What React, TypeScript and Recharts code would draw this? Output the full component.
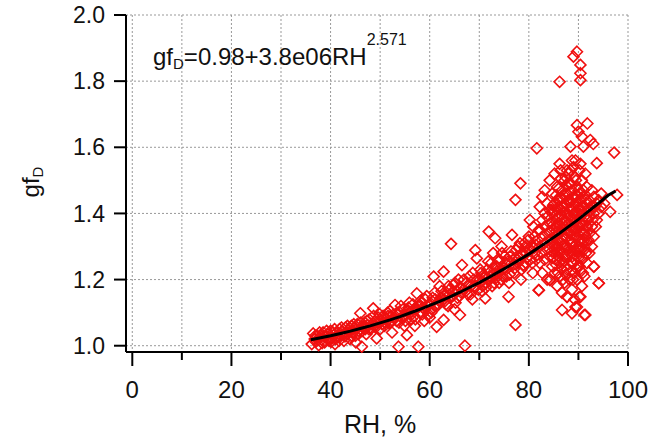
import {
  ComposedChart,
  Scatter,
  XAxis,
  YAxis,
  CartesianGrid,
  Customized,
} from "recharts";

const FONT = "Arial, 'Liberation Sans', sans-serif";
const RED = "#f01010";

// axis ticks
const xTicks = [0, 10, 20, 30, 40, 50, 60, 70, 80, 90, 100];
const yTicks = [1.0, 1.2, 1.4, 1.6, 1.8, 2.0];

// fitted curve
const fitRH = [36, 38, 40, 42, 44, 46, 48, 50, 52, 54, 56, 58, 60, 62, 64, 66, 68, 70, 72, 74, 76, 78, 80, 82, 84, 86, 88, 90, 92, 94, 96, 97.5];
const fitGF = [1.018, 1.024, 1.03, 1.037, 1.044, 1.052, 1.06, 1.069, 1.078, 1.088, 1.099, 1.11, 1.122, 1.134, 1.147, 1.161, 1.176, 1.191, 1.207, 1.224, 1.241, 1.259, 1.277, 1.297, 1.317, 1.338, 1.36, 1.382, 1.406, 1.43, 1.455, 1.468];

// measurements [RH, gfD]
const band36to50: [number, number][] = [
  [36.2, 1.005], [36.5, 1.037], [36.8, 1.02], [37.0, 1.012], [37.3, 1.03], [37.6, 1.002],
  [37.9, 1.025], [38.2, 1.018], [38.5, 1.04], [38.8, 1.01], [39.1, 1.028], [39.4, 1.035],
  [39.7, 1.015], [40.0, 1.045], [40.3, 1.022], [40.6, 1.032], [40.9, 1.005], [41.2, 1.04],
  [41.5, 1.026], [41.8, 1.05], [42.1, 1.03], [42.4, 1.043], [42.7, 1.015], [43.0, 1.055],
  [43.3, 1.035], [43.6, 1.048], [43.9, 1.02], [44.2, 1.06], [44.5, 1.04], [44.8, 1.052],
  [45.1, 1.01], [45.4, 1.065], [45.7, 1.045], [46.0, 1.098], [46.3, 0.997], [46.6, 1.058],
  [46.9, 1.07], [47.2, 1.035], [47.5, 1.062], [47.8, 1.08], [48.1, 1.05], [48.6, 1.113],
  [48.9, 1.072], [49.3, 1.022], [49.6, 1.085], [50.0, 1.05], [38.0, 1.03], [41.0, 1.02],
  [43.0, 1.04], [45.0, 1.03], [47.0, 1.05], [49.0, 1.06],
  [36.9, 1.03], [37.4, 1.018], [37.8, 1.04], [38.3, 1.008], [38.7, 1.028], [39.2, 1.045],
  [39.6, 1.025], [40.1, 1.012], [40.5, 1.04], [40.8, 1.05], [41.3, 1.03], [41.7, 1.015],
  [42.2, 1.055], [42.6, 1.035], [42.9, 1.028], [43.4, 1.06], [43.8, 1.042], [44.3, 1.03],
  [44.7, 1.065], [45.2, 1.05], [45.6, 1.035], [46.1, 1.07], [46.4, 1.045], [46.8, 1.055],
  [47.3, 1.075], [47.7, 1.05], [48.3, 1.065], [48.7, 1.09], [49.1, 1.055], [49.5, 1.07],
  [49.9, 1.095],
];

const band50to70: [number, number][] = [
  [50.3, 1.075], [50.6, 1.09], [50.9, 1.06], [51.2, 1.082], [51.5, 1.1], [51.8, 1.068],
  [52.1, 1.09], [52.4, 1.04], [52.7, 1.095], [53.0, 1.123], [53.3, 1.075], [53.7, 0.997],
  [54.0, 1.1], [54.3, 1.085], [54.6, 1.11], [54.9, 1.06], [55.2, 1.095], [55.4, 1.032],
  [55.7, 1.115], [56.0, 1.1], [56.3, 1.08], [56.6, 1.125], [56.9, 1.09], [57.2, 1.11],
  [57.4, 1.158], [57.7, 0.997], [58.0, 1.1], [58.3, 1.13], [58.6, 1.115], [58.9, 1.075],
  [59.1, 1.14], [59.5, 1.12], [59.8, 1.095], [60.1, 1.13], [60.4, 1.11], [60.8, 1.209],
  [61.1, 1.14], [61.4, 1.057], [61.7, 1.125], [62.0, 1.18], [62.3, 1.145], [62.8, 1.224],
  [62.8, 1.078], [63.1, 1.135], [63.4, 1.16], [63.7, 1.12], [64.0, 1.17], [64.3, 1.308],
  [64.6, 1.15], [64.9, 1.185], [65.2, 1.13], [65.5, 1.165], [65.8, 1.2], [66.1, 1.093],
  [66.5, 1.244], [66.8, 1.17], [67.1, 1.0], [67.4, 1.19], [67.7, 1.155], [68.0, 1.21],
  [68.3, 1.18], [68.6, 1.14], [68.9, 1.2], [69.2, 1.289], [69.5, 1.264], [69.8, 1.17],
  [52.0, 1.07], [55.0, 1.09], [58.0, 1.12], [61.0, 1.12], [63.0, 1.15], [66.0, 1.15], [69.0, 1.18],
  [50.4, 1.065], [50.8, 1.085], [51.1, 1.07], [51.6, 1.09], [52.0, 1.105], [52.5, 1.075],
  [52.9, 1.085], [53.4, 1.1], [53.8, 1.07], [54.2, 1.12], [54.7, 1.09], [55.1, 1.075],
  [55.5, 1.105], [55.9, 1.13], [56.4, 1.095], [56.8, 1.11], [57.1, 1.08], [57.6, 1.12],
  [58.1, 1.135], [58.5, 1.095], [59.0, 1.11], [59.4, 1.15], [59.9, 1.125], [60.3, 1.1],
  [60.6, 1.145], [61.0, 1.16], [61.5, 1.12], [61.9, 1.135], [62.4, 1.165], [62.9, 1.14],
  [63.3, 1.125], [63.8, 1.18], [64.2, 1.145], [64.7, 1.165], [65.1, 1.19], [65.6, 1.145],
  [66.0, 1.175], [66.4, 1.16], [66.9, 1.2], [67.3, 1.165], [67.8, 1.185], [68.2, 1.155],
  [68.7, 1.22], [69.1, 1.175], [69.6, 1.2], [65.0, 1.11], [60.0, 1.085], [57.0, 1.06],
];

const band70to82: [number, number][] = [
  [70.1, 1.2], [70.4, 1.22], [70.7, 1.18], [71.0, 1.205], [71.2, 1.143], [71.6, 1.23],
  [71.9, 1.345], [72.1, 1.2], [72.4, 1.25], [72.7, 1.215], [73.0, 1.19], [73.2, 1.325],
  [73.5, 1.24], [73.8, 1.22], [74.1, 1.26], [74.4, 1.2], [74.6, 1.28], [74.9, 1.235],
  [75.2, 1.25], [75.5, 1.21], [75.9, 1.148], [76.2, 1.27], [76.6, 1.335], [76.9, 1.245],
  [77.3, 1.063], [77.6, 1.26], [77.9, 1.3], [78.5, 1.23], [78.8, 1.275], [79.1, 1.31],
  [79.4, 1.25], [79.7, 1.29], [80.0, 1.33], [80.3, 1.26], [80.6, 1.3], [80.9, 1.36],
  [81.2, 1.28], [81.8, 1.32], [82.0, 1.168], [70.5, 1.195], [72.0, 1.21], [73.6, 1.225],
  [75.0, 1.235], [76.5, 1.25], [78.0, 1.265], [79.5, 1.28], [81.0, 1.295], [71.3, 1.175],
  [74.0, 1.19], [77.0, 1.22], [79.0, 1.24], [81.5, 1.26], [80.2, 1.38],
  [70.2, 1.23], [70.6, 1.165], [70.9, 1.215], [71.4, 1.19], [71.8, 1.255], [72.3, 1.225],
  [72.6, 1.18], [72.9, 1.235], [73.4, 1.205], [73.9, 1.255], [74.3, 1.235], [74.7, 1.21],
  [75.1, 1.27], [75.4, 1.23], [75.8, 1.255], [76.1, 1.215], [76.4, 1.285], [76.8, 1.26],
  [77.2, 1.235], [77.5, 1.29], [77.8, 1.25], [78.2, 1.31], [78.6, 1.28], [78.9, 1.245],
  [79.3, 1.3], [79.6, 1.265], [79.9, 1.32], [80.4, 1.29], [80.7, 1.25], [81.1, 1.33],
  [81.4, 1.305], [81.7, 1.275], [82.0, 1.35], [76.0, 1.19], [78.4, 1.2], [80.8, 1.22],
  [74.5, 1.3], [72.8, 1.28],
];

const core82to94: [number, number][] = [
  [82.2, 1.25], [82.2, 1.3], [82.2, 1.35], [82.2, 1.42],
  [82.7, 1.22], [82.7, 1.28], [82.7, 1.33], [82.7, 1.38], [82.7, 1.45],
  [83.2, 1.26], [83.2, 1.31], [83.2, 1.36], [83.2, 1.4], [83.2, 1.47],
  [83.7, 1.2], [83.7, 1.29], [83.7, 1.34], [83.7, 1.39], [83.7, 1.43],
  [84.2, 1.199], [84.2, 1.27], [84.2, 1.32], [84.2, 1.37], [84.2, 1.41], [84.2, 1.5],
  [84.7, 1.24], [84.7, 1.3], [84.7, 1.35], [84.7, 1.4], [84.7, 1.46],
  [85.2, 1.22], [85.2, 1.28], [85.2, 1.33], [85.2, 1.38], [85.2, 1.43], [85.2, 1.52],
  [85.7, 1.18], [85.7, 1.26], [85.7, 1.31], [85.7, 1.36], [85.7, 1.41], [85.7, 1.48],
  [86.2, 1.21], [86.2, 1.29], [86.2, 1.34], [86.2, 1.39], [86.2, 1.44], [86.2, 1.55],
  [86.7, 1.108], [86.7, 1.16], [86.7, 1.25], [86.7, 1.32], [86.7, 1.37], [86.7, 1.42], [86.7, 1.47],
  [87.2, 1.19], [87.2, 1.27], [87.2, 1.33], [87.2, 1.38], [87.2, 1.43], [87.2, 1.5],
  [87.7, 1.148], [87.7, 1.23], [87.7, 1.3], [87.7, 1.35], [87.7, 1.4], [87.7, 1.46], [87.7, 1.53],
  [88.2, 1.2], [88.2, 1.28], [88.2, 1.34], [88.2, 1.39], [88.2, 1.44], [88.2, 1.49],
  [88.7, 1.098], [88.7, 1.17], [88.7, 1.25], [88.7, 1.31], [88.7, 1.36], [88.7, 1.41], [88.7, 1.47], [88.7, 1.56],
  [89.2, 1.14], [89.2, 1.22], [89.2, 1.29], [89.2, 1.35], [89.2, 1.4], [89.2, 1.45], [89.2, 1.51],
  [89.7, 1.117], [89.7, 1.2], [89.7, 1.27], [89.7, 1.33], [89.7, 1.38], [89.7, 1.43], [89.7, 1.48],
  [90.2, 1.148], [90.2, 1.24], [90.2, 1.3], [90.2, 1.36], [90.2, 1.41], [90.2, 1.46], [90.2, 1.53],
  [90.7, 1.18], [90.7, 1.26], [90.7, 1.32], [90.7, 1.37], [90.7, 1.42], [90.7, 1.5],
  [91.2, 1.093], [91.2, 1.21], [91.2, 1.29], [91.2, 1.34], [91.2, 1.39], [91.2, 1.45],
  [91.7, 1.25], [91.7, 1.31], [91.7, 1.36], [91.7, 1.41], [91.7, 1.48],
  [92.2, 1.28], [92.2, 1.34], [92.2, 1.39], [92.2, 1.44],
  [92.7, 1.3], [92.7, 1.36], [92.7, 1.42], [92.7, 1.47],
  [93.1, 1.239], [93.1, 1.33], [93.1, 1.4], [93.1, 1.45],
  [93.7, 1.38], [93.7, 1.43], [94.1, 1.189], [94.1, 1.4], [94.1, 1.44],
  [94.6, 1.42], [94.6, 1.46], [95.2, 1.43],
];

const coreFill: [number, number][] = [
  [84.9, 1.265], [84.9, 1.315], [84.9, 1.365], [84.9, 1.425],
  [85.5, 1.245], [85.5, 1.295], [85.5, 1.345], [85.5, 1.395], [85.5, 1.455],
  [86.0, 1.27], [86.0, 1.32], [86.0, 1.37], [86.0, 1.42], [86.0, 1.475],
  [86.5, 1.235], [86.5, 1.285], [86.5, 1.345], [86.5, 1.395], [86.5, 1.45], [86.5, 1.505],
  [87.0, 1.255], [87.0, 1.305], [87.0, 1.355], [87.0, 1.405], [87.0, 1.455],
  [87.5, 1.215], [87.5, 1.275], [87.5, 1.325], [87.5, 1.375], [87.5, 1.425], [87.5, 1.485],
  [88.0, 1.245], [88.0, 1.295], [88.0, 1.345], [88.0, 1.395], [88.0, 1.455], [88.0, 1.52],
  [88.5, 1.225], [88.5, 1.285], [88.5, 1.335], [88.5, 1.385], [88.5, 1.435], [88.5, 1.49],
  [89.0, 1.25], [89.0, 1.3], [89.0, 1.35], [89.0, 1.4], [89.0, 1.45], [89.0, 1.54],
  [89.5, 1.235], [89.5, 1.285], [89.5, 1.345], [89.5, 1.395], [89.5, 1.455], [89.5, 1.5],
  [90.0, 1.265], [90.0, 1.315], [90.0, 1.365], [90.0, 1.415], [90.0, 1.47],
  [90.5, 1.225], [90.5, 1.29], [90.5, 1.345], [90.5, 1.395], [90.5, 1.445],
  [91.0, 1.265], [91.0, 1.315], [91.0, 1.365], [91.0, 1.42], [91.0, 1.47],
  [91.5, 1.28], [91.5, 1.33], [91.5, 1.385], [91.5, 1.44],
  [84.4, 1.345], [84.6, 1.285], [85.0, 1.41], [85.3, 1.36], [85.6, 1.3], [85.8, 1.44],
  [86.1, 1.25], [86.3, 1.41], [86.6, 1.355], [86.8, 1.3], [87.1, 1.42], [87.3, 1.36],
  [87.6, 1.29], [87.9, 1.44], [88.1, 1.37], [88.3, 1.32], [88.6, 1.42], [88.8, 1.27],
  [89.1, 1.38], [89.3, 1.33], [89.6, 1.42], [89.8, 1.36], [90.1, 1.29], [90.3, 1.44],
  [90.6, 1.37], [90.8, 1.31], [91.1, 1.4], [91.3, 1.35], [91.6, 1.43], [91.9, 1.38],
  [92.0, 1.32], [92.4, 1.41], [92.8, 1.38], [93.3, 1.42], [93.5, 1.36], [86.9, 1.2],
  [88.9, 1.2], [90.9, 1.22], [85.9, 1.22], [89.9, 1.24], [87.4, 1.51], [88.4, 1.53],
  [89.4, 1.56], [90.4, 1.55], [91.4, 1.52], [86.4, 1.53],
];

const outliers: [number, number][] = [
  [89.7, 1.889], [89.0, 1.874], [90.4, 1.849], [90.4, 1.824], [90.4, 1.803], [86.2, 1.798],
  [89.7, 1.667], [91.8, 1.672], [90.0, 1.647], [90.7, 1.632], [92.4, 1.622], [88.4, 1.602],
  [91.0, 1.602], [93.0, 1.61], [81.6, 1.597], [97.2, 1.584], [93.7, 1.552], [78.3, 1.491],
  [77.3, 1.441], [97.8, 1.456], [96.4, 1.405], [94.1, 1.189], [91.4, 1.093], [87.7, 1.148],
  [89.4, 1.117], [90.4, 1.148], [82.0, 1.168], [84.3, 1.199], [93.1, 1.239],
];

const scatterData = [...band36to50, ...band50to70, ...band70to82, ...core82to94, ...coreFill, ...outliers].map(
  ([x, y]) => ({ x, y })
);
const fitData = fitRH.map((x, i) => ({ x, y: fitGF[i] }));

function Diamond(props: any) {
  const { cx, cy } = props;
  if (cx == null || cy == null) return null;
  const r = 5.5;
  return (
    <path
      d={`M${cx},${cy - r}L${cx + r},${cy}L${cx},${cy + r}L${cx - r},${cy}Z`}
      fill="none"
      stroke={RED}
      strokeWidth={1.6}
    />
  );
}

function NoDot() {
  return <g />;
}

function XTick(props: any) {
  const { x, y, payload } = props;
  const major = payload.value % 20 === 0;
  return (
    <g>
      <line x1={x} x2={x} y1={y} y2={y + (major ? 14 : 8)} stroke="#000" strokeWidth={2} />
      {major && (
        <text x={x} y={y + 46} textAnchor="middle" fontSize={24} fontFamily={FONT} fill="#111">
          {payload.value}
        </text>
      )}
    </g>
  );
}

function Titles() {
  return (
    <g fontFamily={FONT} fill="#111">
      <text x={153} y={65} fontSize={24}>
        gf<tspan dy={4} fontSize={15}>D</tspan>
        <tspan dy={-4}>=0.98+3.8e06RH</tspan>
        <tspan dy={-20} fontSize={16}>2.571</tspan>
      </text>
      <text transform="translate(39,182) rotate(-90)" textAnchor="middle" fontSize={24}>
        gf<tspan dy={4} fontSize={15}>D</tspan>
      </text>
      <text x={380} y={433} textAnchor="middle" fontSize={25}>
        RH, %
      </text>
    </g>
  );
}

export default function App() {
  return (
    <div style={{ position: "absolute", left: 0, top: 0, background: "#fff" }}>
      <ComposedChart width={652} height={442} margin={{ top: 15, right: 24, bottom: 0, left: 0 }}>
        <CartesianGrid stroke="#999" strokeDasharray="2 2" />
        <XAxis
          type="number"
          dataKey="x"
          domain={[-1.27, 100]}
          ticks={xTicks}
          interval={0}
          height={90}
          tickSize={0}
          tickMargin={0}
          tickLine={false}
          axisLine={{ stroke: "#000", strokeWidth: 2 }}
          tick={<XTick />}
        />
        <YAxis
          type="number"
          dataKey="y"
          domain={[0.981, 2]}
          ticks={yTicks}
          interval={0}
          width={126}
          tickSize={12}
          tickMargin={9}
          tickLine={{ stroke: "#000", strokeWidth: 2 }}
          axisLine={{ stroke: "#000", strokeWidth: 2 }}
          tick={{ fill: "#111", fontSize: 23, fontFamily: FONT }}
          tickFormatter={(v: number) => v.toFixed(1)}
        />
        <Scatter data={scatterData} dataKey="y" shape={<Diamond />} isAnimationActive={false} />
        <Scatter
          data={fitData}
          dataKey="y"
          shape={<NoDot />}
          line={{ stroke: "#000", strokeWidth: 3 }}
          lineType="joint"
          isAnimationActive={false}
        />
        <Customized component={<Titles />} />
      </ComposedChart>
    </div>
  );
}
